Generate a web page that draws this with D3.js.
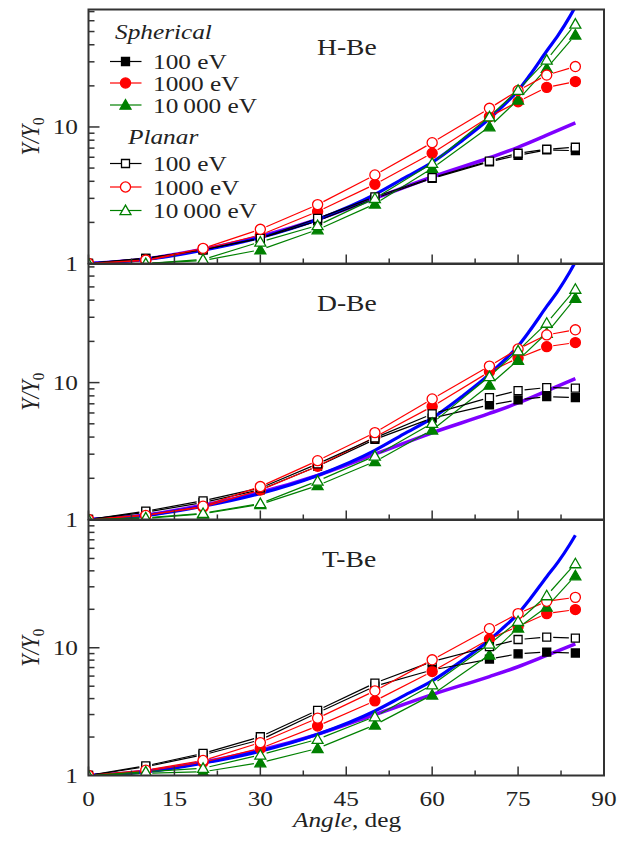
<!DOCTYPE html>
<html>
<head>
<meta charset="utf-8">
<script src="https://cdn.jsdelivr.net/npm/d3@7"></script>
<style>
  body { margin: 0; background: #fff; }
  svg { display: block; }
  text { font-family: "Liberation Serif", "Times New Roman", serif; fill: #222; }
</style>
</head>
<body>
<div id="chart"></div>
<script>
// angles of the computed points, deg
var angles = [0, 10, 20, 30, 40, 50, 60, 70, 75, 80, 85];

// H-Be
var hbeSph100   = [1, 1.09, 1.26, 1.53, 2.05, 3.0, 4.2, 5.55, 6.2, 6.8, 6.7];
var hbeSph1000  = [1, 1.05, 1.27, 1.62, 2.40, 3.80, 6.42, 11.9, 15.3, 19.5, 21.5];
var hbeSph10000 = [1, 1.0, 1.05, 1.26, 1.77, 2.73, 4.98, 10.05, 15.8, 26.9, 47.2];
var hbePl100    = [1, 1.09, 1.26, 1.53, 2.14, 3.08, 4.25, 5.63, 6.42, 6.87, 7.1];
var hbePl1000   = [1, 1.06, 1.29, 1.78, 2.70, 4.45, 7.67, 13.7, 18.5, 24, 27.7];
var hbePl10000  = [1, 1.0, 1.07, 1.44, 1.90, 3.0, 5.42, 11.9, 18.6, 31, 56.8];

// D-Be
var dbeSph100   = [1, 1.13, 1.33, 1.65, 2.45, 3.85, 5.5, 6.87, 7.47, 7.9, 7.77];
var dbeSph1000  = [1, 1.08, 1.23, 1.64, 2.45, 4.0, 6.68, 12.0, 15.1, 18.3, 19.6];
var dbeSph10000 = [1, 1.02, 1.1, 1.29, 1.77, 2.65, 4.51, 9.6, 14.6, 23, 41.4];
var dbePl100    = [1, 1.15, 1.37, 1.70, 2.55, 3.95, 5.9, 7.77, 8.74, 9.2, 9.1];
var dbePl1000   = [1, 1.07, 1.25, 1.74, 2.69, 4.31, 7.6, 13.2, 17.6, 22.3, 24.3];
var dbePl10000  = [1, 1.03, 1.11, 1.31, 1.91, 2.91, 5.05, 11.1, 17.1, 27.2, 48.2];

// T-Be
var tbeSph100   = [1, 1.17, 1.45, 1.9, 3.1, 5.0, 6.7, 8.15, 8.97, 9.25, 9.1];
var tbeSph1000  = [1, 1.08, 1.27, 1.63, 2.44, 3.84, 6.52, 11.7, 14.7, 18.5, 19.9];
var tbeSph10000 = [1, 1.04, 1.07, 1.26, 1.63, 2.49, 4.28, 8.8, 14.3, 20.9, 36.7];
var tbePl100    = [1, 1.19, 1.49, 2.01, 3.24, 5.29, 7.8, 10.2, 11.6, 12.1, 11.9];
var tbePl1000   = [1, 1.1, 1.31, 1.81, 2.81, 4.6, 8.05, 14.1, 18.5, 23.1, 24.8];
var tbePl10000  = [1, 1.07, 1.14, 1.45, 1.92, 2.89, 5.13, 10.7, 16.1, 25.6, 45.6];

// analytic curves (same in all panels)
var purpleAngles = [0, 10, 20, 30, 40, 50, 60, 70, 75, 80, 85];
var purpleValues = [1, 1.08, 1.27, 1.58, 2.1, 3.0, 4.3, 5.95, 7.1, 8.7, 10.7];
var blueAngles = [0, 10, 20, 30, 40, 50, 55, 60, 65, 70, 72, 75, 77, 80, 82, 84, 85];
var blueValues = [1, 1.07, 1.25, 1.55, 2.1, 3.2, 4.2, 5.5, 7.8, 11.5, 13.8, 18.5, 23.8, 36, 47, 64, 76];

var panelNames = ['H-Be', 'D-Be', 'T-Be'];
var xMajorTicks = [0, 15, 30, 45, 60, 75, 90];
var xMinorTicks = [7.5, 22.5, 37.5, 52.5, 67.5, 82.5];
var yLabelTicks = [1, 10];
var energies = ['100 eV', '1000 eV', '10\u2009000 eV'];

var width = 627, height = 843;
var left = 88.5, right = 604;
var panels = [
  { top: 9.5, bottom: 263.5, ymax: 72.5, sph: [hbeSph100, hbeSph1000, hbeSph10000], pl: [hbePl100, hbePl1000, hbePl10000] },
  { top: 264, bottom: 519.5, ymax: 73.5, sph: [dbeSph100, dbeSph1000, dbeSph10000], pl: [dbePl100, dbePl1000, dbePl10000] },
  { top: 520, bottom: 775.5, ymax: 100, sph: [tbeSph100, tbeSph1000, tbeSph10000], pl: [tbePl100, tbePl1000, tbePl10000] }
];
var colors = ['#000', '#ff0000', '#008000'];
var shapes = [d3.symbolSquare, d3.symbolCircle, d3.symbolTriangle];
var sizes = [64, 80, 52];
var frameColor = '#333';
var sx = 1.15; // text in the figure is slightly wide
var gap = 6.5;  // origin-style gap between line and marker

var svg = d3.select('#chart').append('svg')
  .attr('width', width)
  .attr('height', height);

var x = d3.scaleLinear().domain([0, 90]).range([left, right]);

var addText = function(g, tx, ty, anchor, size) {
  return g.append('text')
    .attr('transform', 'translate(' + tx + ',' + ty + ') scale(' + sx + ',1)')
    .attr('text-anchor', anchor)
    .attr('font-size', size);
};

var marker = function(g, i, filled, cx, cy) {
  g.append('path')
    .attr('d', d3.symbol().type(shapes[i]).size(sizes[i])())
    .attr('transform', 'translate(' + cx + ',' + (cy + (i === 2 ? 1 : 0)) + ')')
    .attr('fill', filled ? colors[i] : '#fff')
    .attr('stroke', colors[i])
    .attr('stroke-width', 1.3);
};

panels.forEach(function(p, pi) {
  var y = d3.scaleLog().domain([1, p.ymax]).range([p.bottom, p.top]);
  var g = svg.append('g');

  var clipId = 'clip' + pi;
  svg.append('clipPath').attr('id', clipId)
    .append('rect')
    .attr('x', left).attr('y', p.top)
    .attr('width', right - left).attr('height', p.bottom - p.top);

  var plot = g.append('g').attr('clip-path', 'url(#' + clipId + ')');

  var smooth = d3.line()
    .x(function(d) { return x(d[0]); })
    .y(function(d) { return y(d[1]); })
    .curve(d3.curveMonotoneX);

  plot.append('path')
    .datum(d3.zip(purpleAngles, purpleValues))
    .attr('d', smooth)
    .attr('fill', 'none')
    .attr('stroke', '#7f00ff')
    .attr('stroke-width', 3.5);

  plot.append('path')
    .datum(d3.zip(blueAngles, blueValues))
    .attr('d', smooth)
    .attr('fill', 'none')
    .attr('stroke', '#0000ff')
    .attr('stroke-width', 3.2);

  var series = [];
  p.sph.forEach(function(v, i) { series.push({ vals: v, i: i, filled: true }); });
  p.pl.forEach(function(v, i) { series.push({ vals: v, i: i, filled: false }); });

  // connecting segments, stopped short of the markers
  series.forEach(function(s) {
    var pts = d3.zip(angles, s.vals).map(function(d) { return [x(d[0]), y(d[1])]; });
    d3.pairs(pts).forEach(function(pr) {
      var a = pr[0], b = pr[1];
      var dx = b[0] - a[0], dy = b[1] - a[1];
      var len = Math.sqrt(dx * dx + dy * dy);
      if (len <= 2 * gap) return;
      var ux = dx / len, uy = dy / len;
      plot.append('line')
        .attr('x1', a[0] + ux * gap).attr('y1', a[1] + uy * gap)
        .attr('x2', b[0] - ux * gap).attr('y2', b[1] - uy * gap)
        .attr('stroke', colors[s.i])
        .attr('stroke-width', 1.2);
    });
  });

  series.forEach(function(s) {
    d3.zip(angles, s.vals).forEach(function(d) {
      marker(plot, s.i, s.filled, x(d[0]), y(d[1]));
    });
  });

  // y ticks (inside)
  var yMinor = [];
  for (var k = 2; k <= 9; k++) yMinor.push(k);
  for (var k2 = 20; k2 < p.ymax; k2 += 10) yMinor.push(k2);
  g.selectAll('.ymin').data(yMinor).enter().append('line')
    .attr('x1', left).attr('x2', left + 6)
    .attr('y1', function(d) { return y(d); })
    .attr('y2', function(d) { return y(d); })
    .attr('stroke', frameColor).attr('stroke-width', 1.5);
  g.selectAll('.ymaj').data([10]).enter().append('line')
    .attr('x1', left).attr('x2', left + 11)
    .attr('y1', function(d) { return y(d); })
    .attr('y2', function(d) { return y(d); })
    .attr('stroke', frameColor).attr('stroke-width', 1.5);

  yLabelTicks.forEach(function(t) {
    addText(g, 78, y(t) + 7.5, 'end', 22).text(t);
  });

  // x ticks (inside, bottom)
  xMajorTicks.forEach(function(t) {
    g.append('line')
      .attr('x1', x(t)).attr('x2', x(t))
      .attr('y1', p.bottom).attr('y2', p.bottom - 9)
      .attr('stroke', frameColor).attr('stroke-width', 1.5);
  });
  xMinorTicks.forEach(function(t) {
    g.append('line')
      .attr('x1', x(t)).attr('x2', x(t))
      .attr('y1', p.bottom).attr('y2', p.bottom - 5)
      .attr('stroke', frameColor).attr('stroke-width', 1.5);
  });

  // frame
  g.append('rect')
    .attr('x', left).attr('y', p.top)
    .attr('width', right - left).attr('height', p.bottom - p.top)
    .attr('fill', 'none')
    .attr('stroke', frameColor).attr('stroke-width', 2);

  // panel name
  var nameX = pi === 2 ? 322 : 317;
  var nameY = [55, 311, 567][pi];
  addText(g, nameX, nameY, 'start', 24).text(panelNames[pi]);

  // y label
  var cy = (p.top + p.bottom) / 2;
  var yl = g.append('text')
    .attr('transform', 'translate(38.5,' + cy + ') rotate(-90) scale(1,' + sx + ')')
    .attr('text-anchor', 'middle')
    .attr('font-size', 22);
  yl.append('tspan').attr('font-style', 'italic').text('Y/Y');
  yl.append('tspan').attr('font-size', 15).attr('dy', 5).text('0');
});

// x tick labels and title
var bottomG = svg.append('g');
xMajorTicks.forEach(function(t) {
  addText(bottomG, x(t), 806, 'middle', 22).text(t);
});
var xl = addText(bottomG, 347, 827, 'middle', 22);
xl.append('tspan').attr('font-style', 'italic').text('Angle');
xl.append('tspan').text(', deg');

// legend
var legend = svg.append('g');
addText(legend, 115, 39, 'start', 22).attr('font-style', 'italic').text('Spherical');
addText(legend, 128, 144, 'start', 22).attr('font-style', 'italic').text('Planar');
var legendRows = [
  { cy: 61.5, i: 0, filled: true }, { cy: 83, i: 1, filled: true }, { cy: 105, i: 2, filled: true },
  { cy: 163.5, i: 0, filled: false }, { cy: 187, i: 1, filled: false }, { cy: 210.5, i: 2, filled: false }
];
legendRows.forEach(function(r) {
  legend.append('line')
    .attr('x1', 110).attr('x2', 141.5)
    .attr('y1', r.cy).attr('y2', r.cy)
    .attr('stroke', colors[r.i]).attr('stroke-width', 1.2);
  marker(legend, r.i, r.filled, 125.5, r.cy);
  addText(legend, 153, r.cy + 7.5, 'start', 22).text(energies[r.i]);
});
</script>
</body>
</html>
